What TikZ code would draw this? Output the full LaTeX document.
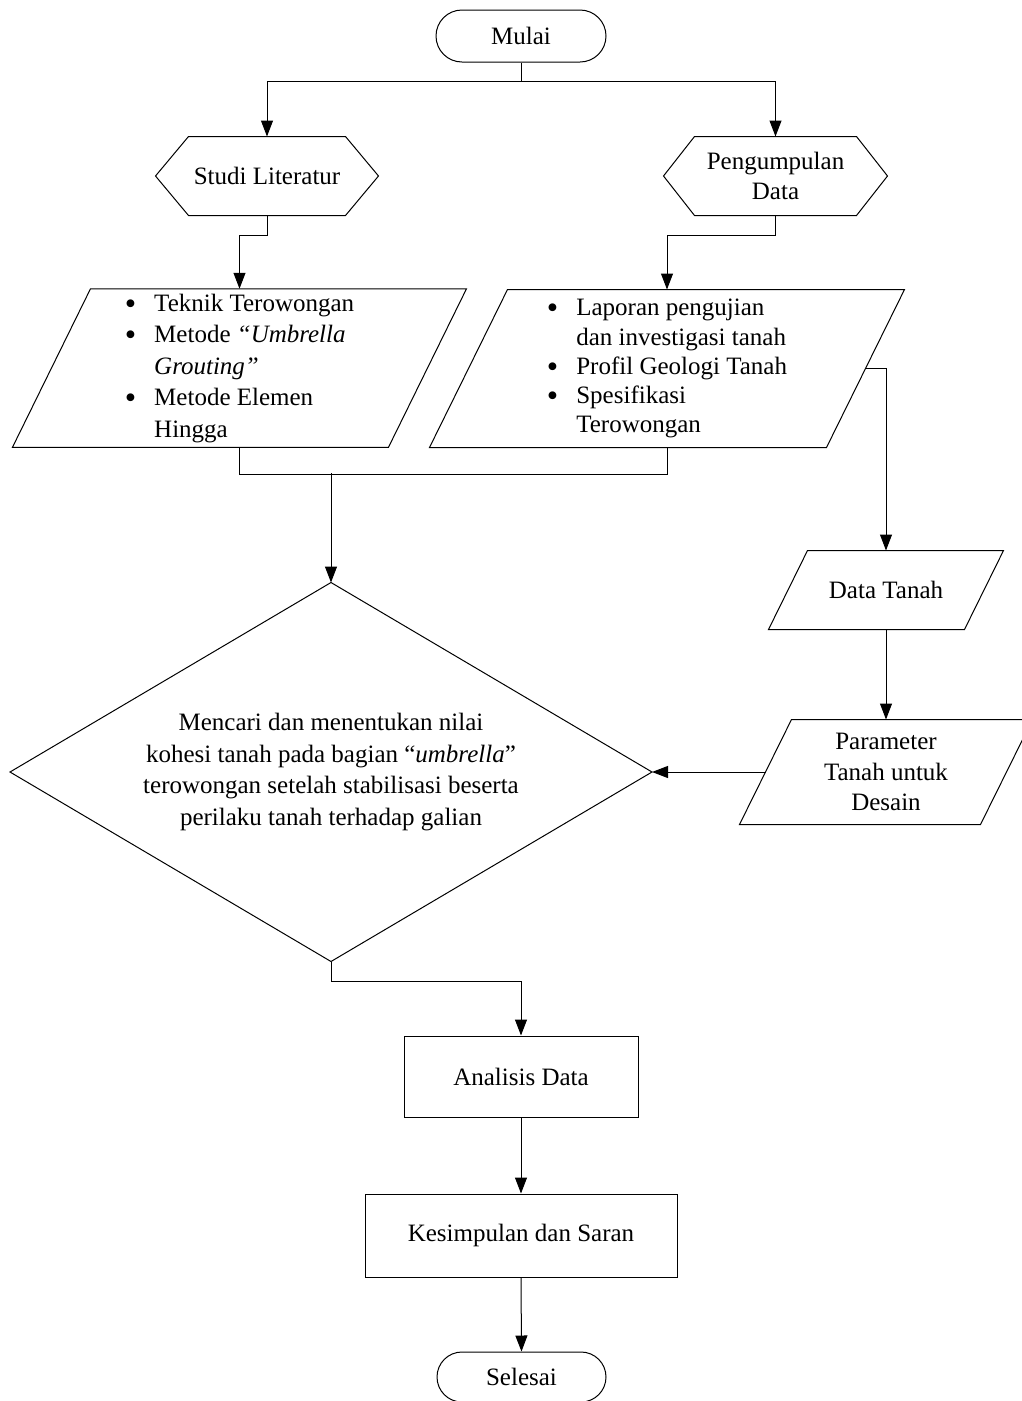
\documentclass[tikz,border=0pt]{standalone}
\usepackage{fontspec}
\setmainfont{Liberation Serif}
\usetikzlibrary{arrows.meta,calc}
\newcommand\drawpara[2]{\draw ($(#1.north west)+(#2,0)$) -- (#1.north east) -- ($(#1.south east)+(-#2,0)$) -- (#1.south west) -- cycle;}
\newcommand\drawhex[2]{\draw (#1.west) -- ($(#1.north west)+(#2,0)$) -- ($(#1.north east)+(-#2,0)$) -- (#1.east) -- ($(#1.south east)+(-#2,0)$) -- ($(#1.south west)+(#2,0)$) -- cycle;}
\newcommand\bigbul{\raisebox{-0.12em}{\scalebox{1.3}{\textbullet}}}
\begin{document}
\begin{tikzpicture}[x=1pt,y=-1pt, line width=1pt,
  font=\fontsize{25}{30}\selectfont,
  base/.style={inner sep=0pt, align=center},
  plainbox/.style={inner sep=0pt},
  arr/.style={-{Triangle[length=16pt,width=12pt]}}]
\useasboundingbox (0,0) rectangle (1022,1401);
\clip (0,0) rectangle (1022,1401);

% terminators
\node[base, draw, rounded corners=26pt, minimum width=170pt, minimum height=52pt] (mulai) at (521,36) {Mulai};
\node[base, draw, rounded corners=25pt, minimum width=169pt, minimum height=50pt] (sel) at (521.5,1377) {Selesai};

% hexagons
\node[base, minimum width=222pt, minimum height=78pt] (studi) at (267,176) {Studi Literatur};
\drawhex{studi}{33}
\node[base, minimum width=223pt, minimum height=78pt] (peng) at (775.5,176) {Pengumpulan\\Data};
\drawhex{peng}{31}

% input lists
\node[plainbox, minimum width=453pt, minimum height=156pt, font=\fontsize{25}{31.5}\selectfont] (lit) at (239.5,368)
  {\begin{tabular}{@{}l@{\hspace{18pt}}l@{}}
   \bigbul & Teknik Terowongan\\
   \bigbul & Metode \textit{“Umbrella}\\
               & \textit{Grouting”}\\
   \bigbul & Metode Elemen\\
               & Hingga
   \end{tabular}};
\drawpara{lit}{78}
\node[plainbox, minimum width=474pt, minimum height=157pt, font=\fontsize{25}{29.3}\selectfont] (data) at (667,368.5)
  {\begin{tabular}{@{}l@{\hspace{18pt}}l@{}}
   \bigbul & Laporan pengujian\\
               & dan investigasi tanah\\
   \bigbul & Profil Geologi Tanah\\
   \bigbul & Spesifikasi\\
               & Terowongan
   \end{tabular}};
\drawpara{data}{78}

% right column
\node[base, minimum width=234pt, minimum height=78pt] (tanah) at (886,590) {Data Tanah};
\drawpara{tanah}{39}
\node[base, minimum width=292pt, minimum height=104pt, font=\fontsize{25}{30.5}\selectfont] (param) at (886,772) {Parameter\\Tanah untuk\\Desain};
\drawpara{param}{52}

% decision
\node[base, minimum width=641pt, minimum height=378pt, font=\fontsize{25}{31.5}\selectfont] (dec) at (331,772)
  {Mencari dan menentukan nilai\\kohesi tanah pada bagian “\textit{umbrella}”\\terowongan setelah stabilisasi beserta\\perilaku tanah terhadap galian};
\draw (dec.north) -- (dec.east) -- (dec.south) -- (dec.west) -- cycle;

% processes
\node[base, draw, minimum width=234pt, minimum height=81pt] (ana) at (521,1076.5) {Analisis Data};
\node[base, draw, minimum width=312pt, minimum height=83pt] (kes) at (521,1235.5) {Kesimpulan dan Saran};

% connectors
\coordinate (j1) at (521,81);
\draw (mulai.south) -- (j1);
\draw[arr] (j1) -| (studi.north);
\draw[arr] (j1) -| (peng.north);
\draw[arr] (studi.south) -- ++(0,20) -| (lit.north);
\draw[arr] (peng.south) -- ++(0,20) -| (data.north);
\draw (lit.south) -- ++(0,27) -| (data.south);
\coordinate (j2) at (331,473);
\draw[arr] (j2) -- (dec.north);
\coordinate (dx) at ($(data.east)+(-39,0)$);
\draw[arr] (dx) -| (tanah.north);
\draw[arr] (tanah.south) -- (param.north);
\coordinate (pw) at ($(param.west)+(26,0)$);
\draw[arr] (pw) -- (dec.east);
\draw[arr] (dec.south) -- ++(0,20) -| (ana.north);
\draw[arr] (ana.south) -- (kes.north);
\draw[arr] (kes.south) -- (sel.north);
\end{tikzpicture}
\end{document}
